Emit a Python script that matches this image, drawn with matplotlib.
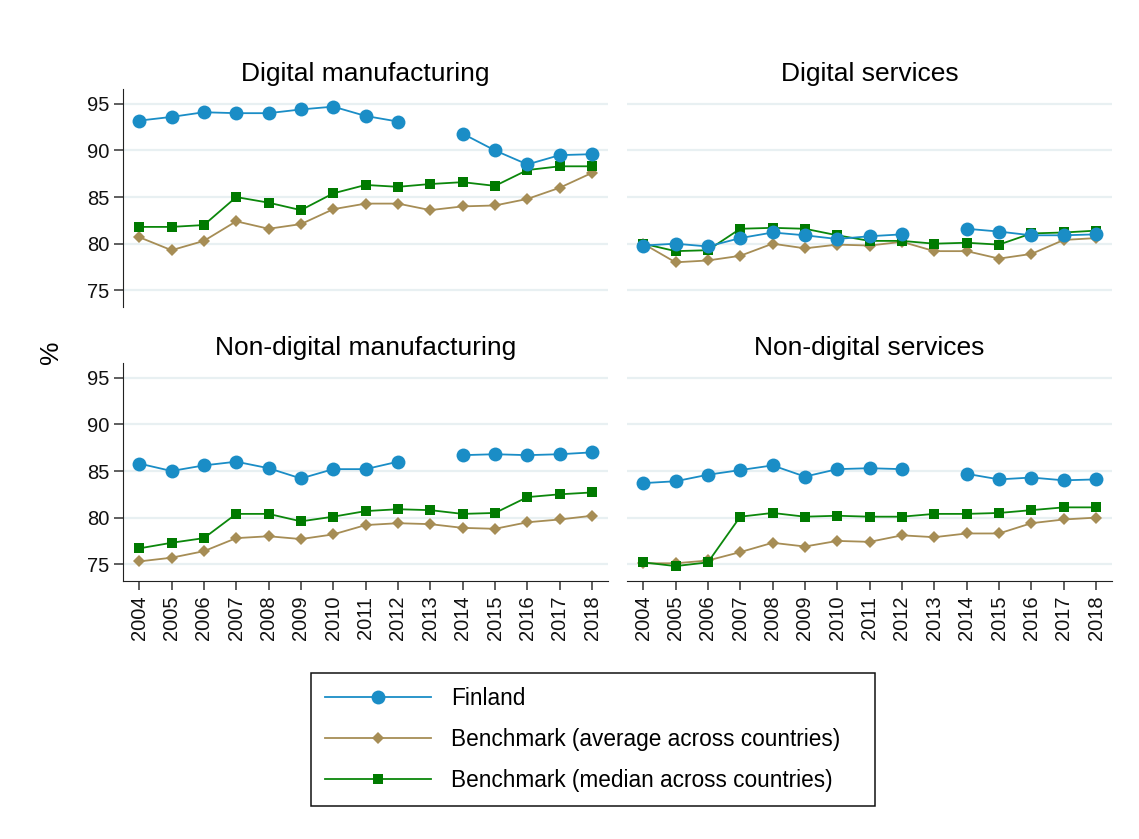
import numpy as np
import matplotlib
matplotlib.use("Agg")
import matplotlib.pyplot as plt

plt.rcParams["font.family"] = ["Liberation Sans", "DejaVu Sans"]

years = list(range(2004, 2019))
nan = np.nan

# Finland has no observation for 2013
dm_finland = [93.2, 93.6, 94.1, 94.0, 94.0, 94.4, 94.7, 93.7, 93.1, nan, 91.8, 90.0, 88.5, 89.5, 89.6]
dm_average = [80.7, 79.3, 80.3, 82.4, 81.6, 82.1, 83.7, 84.3, 84.3, 83.6, 84.0, 84.1, 84.8, 86.0, 87.6]
dm_median = [81.8, 81.8, 82.0, 85.0, 84.4, 83.6, 85.4, 86.3, 86.1, 86.4, 86.6, 86.2, 87.9, 88.3, 88.3]

ds_finland = [79.8, 80.0, 79.7, 80.6, 81.2, 80.9, 80.5, 80.8, 81.0, nan, 81.6, 81.3, 80.9, 80.9, 81.0]
ds_average = [80.0, 78.0, 78.2, 78.7, 80.0, 79.5, 79.9, 79.8, 80.2, 79.2, 79.2, 78.4, 78.9, 80.4, 80.6]
ds_median = [80.0, 79.2, 79.3, 81.6, 81.7, 81.6, 80.9, 80.3, 80.3, 80.0, 80.1, 79.9, 81.1, 81.2, 81.4]

nm_finland = [85.8, 85.0, 85.6, 86.0, 85.3, 84.2, 85.2, 85.2, 86.0, nan, 86.7, 86.8, 86.7, 86.8, 87.0]
nm_average = [75.3, 75.7, 76.4, 77.8, 78.0, 77.7, 78.2, 79.2, 79.4, 79.3, 78.9, 78.8, 79.5, 79.8, 80.2]
nm_median = [76.7, 77.3, 77.8, 80.4, 80.4, 79.6, 80.1, 80.7, 80.9, 80.8, 80.4, 80.5, 82.2, 82.5, 82.7]

ns_finland = [83.7, 83.9, 84.6, 85.1, 85.6, 84.4, 85.2, 85.3, 85.2, nan, 84.7, 84.1, 84.3, 84.0, 84.1]
ns_average = [75.1, 75.1, 75.4, 76.3, 77.3, 76.9, 77.5, 77.4, 78.1, 77.9, 78.3, 78.3, 79.4, 79.8, 80.0]
ns_median = [75.2, 74.8, 75.2, 80.1, 80.5, 80.1, 80.2, 80.1, 80.1, 80.4, 80.4, 80.5, 80.8, 81.1, 81.1]

titles = ["Digital manufacturing", "Digital services",
          "Non-digital manufacturing", "Non-digital services"]
panels = [(dm_finland, dm_average, dm_median),
          (ds_finland, ds_average, ds_median),
          (nm_finland, nm_average, nm_median),
          (ns_finland, ns_average, ns_median)]

col_fin = "#1a8dc6"
col_avg = "#a68d55"
col_med = "#0b870b"
grid_col = "#e8f0f2"

fig = plt.figure(figsize=(11.39, 8.39), dpi=100)

# panel boxes in figure fractions: left column / right column, top row / bottom row
lefts = [0.108, 0.5505]
bottoms = [0.634, 0.3075]
w, h = 0.426, 0.260

axes = []
for i in range(4):
    r, c = divmod(i, 2)
    ax = fig.add_axes([lefts[c], bottoms[r], w, h])
    axes.append(ax)
    fin, avg, med = panels[i]

    for yv in [75, 80, 85, 90, 95]:
        ax.axhline(yv, color=grid_col, lw=1.6, zorder=0)

    l1, = ax.plot(years, fin, color=col_fin, lw=1.3, marker="o", ms=10,
                  markeredgewidth=0, label="Finland", zorder=3)
    l2, = ax.plot(years, avg, color=col_avg, lw=1.3, marker="D", ms=6.3,
                  markeredgewidth=0, label="Benchmark (average across countries)", zorder=2)
    l3, = ax.plot(years, med, color=col_med, lw=1.3, marker="s", ms=6.5,
                  markerfacecolor="#007a00", markeredgewidth=0,
                  label="Benchmark (median across countries)", zorder=2)

    ax.set_xlim(2003.5, 2018.5)
    ax.set_ylim(73.2, 96.6)
    ax.set_title(titles[i], fontsize=19, pad=6)

    for s in ["top", "right"]:
        ax.spines[s].set_visible(False)
    ax.spines["left"].set_color("#222222")
    ax.spines["bottom"].set_color("#222222")

    ax.set_yticks([75, 80, 85, 90, 95])
    ax.set_xticks(years)
    ax.tick_params(axis="both", length=6.5, width=1.1, color="#333333",
                   labelsize=14.5, labelcolor="#111111")

    if c == 1:
        ax.spines["left"].set_visible(False)
        ax.tick_params(axis="y", left=False, labelleft=False)
    if r == 0:
        ax.spines["bottom"].set_visible(False)
        ax.tick_params(axis="x", bottom=False, labelbottom=False)
    else:
        ax.set_xticklabels([str(y) for y in years], rotation=90)
        ax.tick_params(axis="x", pad=4)

fig.text(0.045, 0.58, "%", rotation=90, fontsize=19, ha="center", va="center")

leg = fig.legend(handles=[l1, l2, l3], loc="center",
                 bbox_to_anchor=(0.273, 0.039, 0.495, 0.159), mode="expand",
                 borderaxespad=0, fontsize=16.3, handlelength=4.7,
                 handletextpad=0.9, labelspacing=0.8, borderpad=0.6,
                 fancybox=False, edgecolor="#111111", framealpha=1)
leg.get_frame().set_linewidth(1.1)

fig.savefig("out.png", dpi=100, facecolor="white")
